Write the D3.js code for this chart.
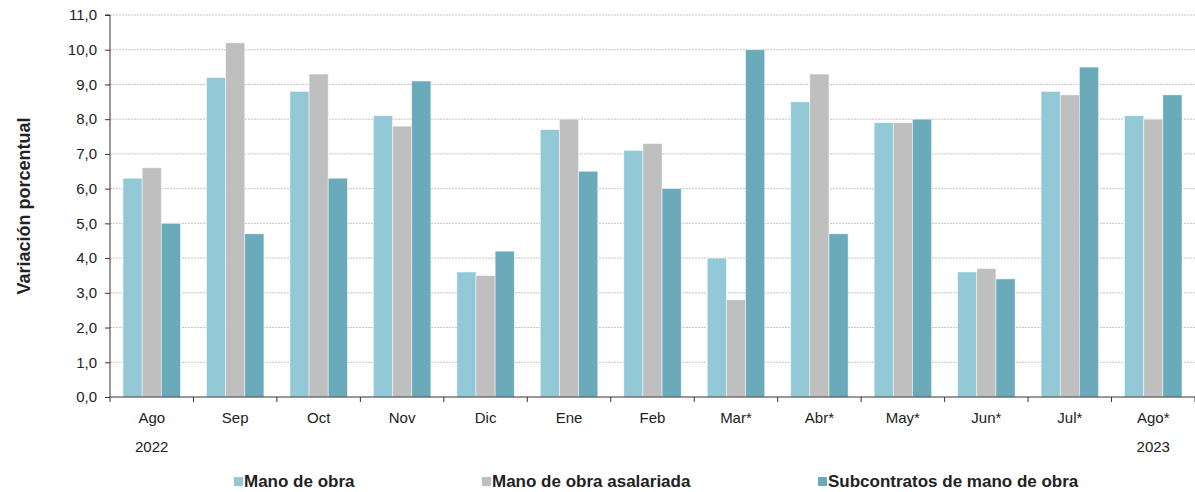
<!DOCTYPE html>
<html><head><meta charset="utf-8">
<script src="https://cdn.jsdelivr.net/npm/d3@7"></script>
<style>body{margin:0;background:#fff}</style>
</head><body>
<svg id="c" width="1195" height="492"></svg>
<script>
const categories = ["Ago","Sep","Oct","Nov","Dic","Ene","Feb","Mar*","Abr*","May*","Jun*","Jul*","Ago*"];
const yearLabels = ["2022","","","","","","","","","","","","2023"];
const seriesNames = ["Mano de obra","Mano de obra asalariada","Subcontratos de mano de obra"];
const manoDeObra = [6.3,9.2,8.8,8.1,3.6,7.7,7.1,4.0,8.5,7.9,3.6,8.8,8.1];
const asalariada = [6.6,10.2,9.3,7.8,3.5,8.0,7.3,2.8,9.3,7.9,3.7,8.7,8.0];
const subcontratos = [5.0,4.7,6.3,9.1,4.2,6.5,6.0,10.0,4.7,8.0,3.4,9.5,8.7];
const yTicks = [0,1,2,3,4,5,6,7,8,9,10,11];
const colors = ["#93C9D6","#BFBFBF","#6AAABB"];
const seriesValues = [manoDeObra, asalariada, subcontratos];

const svg = d3.select("#c");
const L = 110, R = 1195, T = 15, B = 397;
const font = "'Liberation Sans', Arial, sans-serif";

const x0 = d3.scaleBand().domain(categories).range([L, R]).padding(0);
const step = x0.bandwidth();
const x1 = d3.scaleBand().domain(seriesNames).range([13, step - 13]).padding(0);
const y = d3.scaleLinear().domain([0, 11]).range([B, T]);

// grid
svg.append("g").selectAll("line").data(yTicks.slice(1)).join("line")
  .attr("x1", L).attr("x2", R).attr("y1", d => y(d)).attr("y2", d => y(d))
  .attr("stroke", "#c4c4c4").attr("stroke-width", 1).attr("stroke-dasharray", "2,1");

// bars
const g = svg.append("g");
categories.forEach((c, i) => {
  seriesNames.forEach((s, j) => {
    const v = seriesValues[j][i];
    g.append("rect")
      .attr("x", x0(c) + x1(s)).attr("width", x1.bandwidth())
      .attr("y", y(v)).attr("height", y(0) - y(v))
      .attr("fill", colors[j]).attr("stroke", "#ffffff").attr("stroke-opacity", 0.6).attr("stroke-width", 0.8);
  });
});

// y axis
const yAxis = d3.axisLeft(y).tickValues(yTicks).tickSize(5).tickPadding(8)
  .tickFormat(d => d3.format(".1f")(d).replace(".", ","));
const ya = svg.append("g").attr("transform", `translate(${L},0)`).call(yAxis);
ya.select(".domain").attr("stroke", "#333").attr("d", `M-5,${T}H0V${B}`);
ya.selectAll(".tick line").attr("stroke", "#333");
ya.selectAll("text").attr("font-family", font).attr("font-size", 15).attr("fill", "#222");

// x axis
const xa = svg.append("g").attr("transform", `translate(0,${B})`);
xa.append("line").attr("x1", L).attr("x2", R).attr("y1", 0).attr("y2", 0).attr("stroke", "#333");
xa.selectAll("line.t").data(categories.map((c) => x0(c)).concat([R])).join("line").attr("class","t")
  .attr("x1", d => d).attr("x2", d => d).attr("y1", 0).attr("y2", 5).attr("stroke", "#333");
xa.selectAll("text.c").data(categories).join("text").attr("class","c")
  .attr("x", d => x0(d) + step / 2).attr("y", 26).attr("text-anchor", "middle")
  .attr("font-family", font).attr("font-size", 15).attr("fill", "#222").text(d => d);
xa.selectAll("text.yr").data(categories).join("text").attr("class","yr")
  .attr("x", d => x0(d) + step / 2).attr("y", 55).attr("text-anchor", "middle")
  .attr("font-family", font).attr("font-size", 15).attr("fill", "#222")
  .text((d, i) => yearLabels[i]);

// y title
svg.append("text").attr("transform", `translate(30,${(T + B) / 2}) rotate(-90)`)
  .attr("text-anchor", "middle").attr("font-family", font).attr("font-weight", "bold")
  .attr("font-size", 18).attr("fill", "#222").text("Variación porcentual");

// legend
const legX = [234, 482, 818];
const lg = svg.append("g");
seriesNames.forEach((s, j) => {
  lg.append("rect").attr("x", legX[j]).attr("y", 477).attr("width", 9).attr("height", 9).attr("fill", colors[j]);
  lg.append("text").attr("x", legX[j] + 10).attr("y", 487)
    .attr("font-family", font)
    .attr("font-weight", "bold").attr("font-size", 17).attr("fill", "#222").text(s);
});
</script>
</body></html>
